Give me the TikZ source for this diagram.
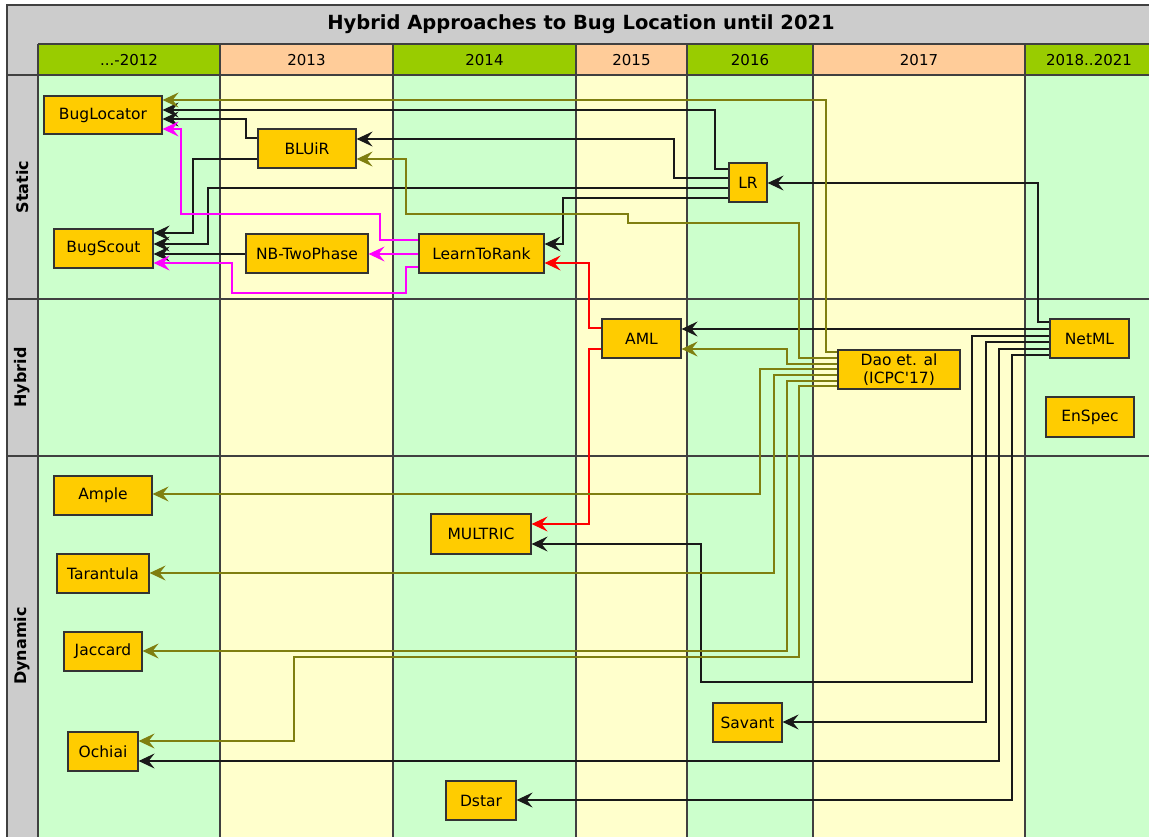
\documentclass[tikz,border=0pt]{standalone}
\usepackage{fontspec}
\setmainfont{DejaVu Sans}
\usepackage{tikz}
\usetikzlibrary{arrows.meta, positioning}
\usepackage{xcolor}
\definecolor{hgreen}{HTML}{99CC00}
\definecolor{hpeach}{HTML}{FFCC99}
\definecolor{bgreen}{HTML}{CCFFCC}
\definecolor{byellow}{HTML}{FFFFCC}
\definecolor{boxfill}{HTML}{FFCC00}
\definecolor{hdrgray}{HTML}{CCCCCC}
\definecolor{olv}{HTML}{7F7F10}
\definecolor{mgt}{HTML}{FF00FF}
\definecolor{rdd}{HTML}{FF0000}

\begin{document}
\begin{tikzpicture}[x=1pt, y=-1pt,
    >={Stealth[length=16pt, width=15pt, inset=6pt]},
    grid/.style={draw=black!75, line width=1.3pt},
    box/.style={draw=black!80, fill=boxfill, line width=1.2pt, inner sep=0pt,
                font=\fontsize{15.5}{18}\selectfont, align=center},
    yr/.style={font=\fontsize{15}{18}\selectfont},
    rowlbl/.style={rotate=90, font=\fontsize{16}{19}\selectfont\bfseries},
    ttl/.style={font=\fontsize{19.5}{23}\selectfont\bfseries},
    blk/.style={->, draw=black!90, line width=1.2pt},
    olvl/.style={->, draw=olv, line width=1.2pt},
    mag/.style={->, draw=mgt, line width=1.2pt},
    rd/.style={->, draw=rdd, line width=1.2pt}]
   \useasboundingbox (0,0) rectangle (1149,836);
   \clip (0,0) rectangle (1149,836);

   % 标题栏和左侧栏
   \fill[hdrgray] (7,5) rectangle (1160,850);
   \node[ttl] (title) at (581,24.5) {Hybrid Approaches to Bug Location until 2021};

   % 年份列
   \foreach \xa/\xb/\hc/\bc/\yr in {38/220/hgreen/bgreen/{...-2012},
       220/393/hpeach/byellow/{2013}, 393/576/hgreen/bgreen/{2014},
       576/687/hpeach/byellow/{2015}, 687/813/hgreen/bgreen/{2016},
       813/1025/hpeach/byellow/{2017}, 1025/1153/hgreen/bgreen/{2018..2021}} {
     \fill[\hc] (\xa,44) rectangle (\xb,75);
     \fill[\bc] (\xa,75) rectangle (\xb,850);
     \node[yr] (h\xa) at ({(\xa+\xb)/2},60) {\yr};
   }

   % 网格线
   \draw[grid] (7,850) -- (7,5) -- (1160,5);
   \draw[grid] (38,44) -- (1160,44);
   \foreach \y in {75,299,456}
     \draw[grid] (7,\y) -- (1160,\y);
   \foreach \x in {38,220,393,576,687,813,1025}
     \draw[grid] (\x,44) -- (\x,850);

   % 行标签
   \node[rowlbl] (rstatic) at (22.5,187) {Static};
   \node[rowlbl] (rhybrid) at (22.5,377.5) {Hybrid};
   \node[rowlbl] (rdynamic) at (22.5,646) {Dynamic};

   % Static
   \node[box, minimum width=118pt, minimum height=38pt] (bugloc) at (103,115) {BugLocator};
   \node[box, minimum width=98pt, minimum height=39pt] (bluir) at (307,148.5) {BLUiR};
   \node[box, minimum width=38pt, minimum height=39pt] (lr) at (748,182.5) {LR};
   \node[box, minimum width=99pt, minimum height=39pt] (bugscout) at (103.5,248.5) {BugScout};
   \node[box, minimum width=122pt, minimum height=39pt] (nb) at (307,253.5) {NB-TwoPhase};
   \node[box, minimum width=125pt, minimum height=39pt] (ltr) at (481.5,253.5) {LearnToRank};

   % Hybrid
   \node[box, minimum width=79pt, minimum height=39pt] (aml) at (641.5,338.5) {AML};
   \node[box, minimum width=79pt, minimum height=39pt] (netml) at (1089.5,338.5) {NetML};
   \node[box, minimum width=122pt, minimum height=39pt] (dao) at (899,369.5) {Dao et. al\\(ICPC\textquotesingle17)};
   \node[box, minimum width=88pt, minimum height=40pt] (enspec) at (1090,417) {EnSpec};

   % Dynamic
   \node[box, minimum width=98pt, minimum height=39pt] (ample) at (103,495.5) {Ample};
   \node[box, minimum width=100pt, minimum height=40pt] (multric) at (481,534) {MULTRIC};
   \node[box, minimum width=92pt, minimum height=39pt] (tarantula) at (103,573.5) {Tarantula};
   \node[box, minimum width=78pt, minimum height=39pt] (jaccard) at (103,651.5) {Jaccard};
   \node[box, minimum width=69pt, minimum height=39pt] (savant) at (747.5,722.5) {Savant};
   \node[box, minimum width=70pt, minimum height=39pt] (ochiai) at (103,751.5) {Ochiai};
   \node[box, minimum width=70pt, minimum height=39pt] (dstar) at (481,800.5) {Dstar};

   % LR 的引用
   \draw[blk] (lr.west |- 0,169) -| (715,110) -- (bugloc.east |- 0,110);
   \draw[blk] (lr.west |- 0,178) -| (674,139) -- (bluir.east |- 0,139);
   \draw[blk] (lr.west |- 0,188) -| (208,244) -- (bugscout.east |- 0,244);
   \draw[blk] (lr.west |- 0,198) -| (563,244) -- (ltr.east |- 0,244);

   % BLUiR, NB-TwoPhase
   \draw[blk] (bluir.west |- 0,138) -| (246,119) -- (bugloc.east |- 0,119);
   \draw[blk] (bluir.west |- 0,159) -| (193,233) -- (bugscout.east |- 0,233);
   \draw[blk] (nb.west |- 0,254) -- (bugscout.east |- 0,254);

   % LearnToRank
   \draw[mag] (ltr.west |- 0,240) -| (380,214) -| (181,129) -- (bugloc.east |- 0,129);
   \draw[mag] (ltr.west |- 0,254) -- (nb.east |- 0,254);
   \draw[mag] (ltr.west |- 0,267) -| (406,293) -| (232,263) -- (bugscout.east |- 0,263);

   % AML
   \draw[rd] (aml.west |- 0,328) -| (589,263) -- (ltr.east |- 0,263);
   \draw[rd] (aml.west |- 0,349) -| (589,524) -- (multric.east |- 0,524);

   % NetML
   \draw[blk] (netml.west |- 0,322) -| (1038,183) -- (lr.east |- 0,183);
   \draw[blk] (netml.west |- 0,329) -- (aml.east |- 0,329);
   \draw[blk] (netml.west |- 0,336) -| (972,682) -| (701,544) -- (multric.east |- 0,544);
   \draw[blk] (netml.west |- 0,342) -| (986,722) -- (savant.east |- 0,722);
   \draw[blk] (netml.west |- 0,349) -| (999,761) -- (ochiai.east |- 0,761);
   \draw[blk] (netml.west |- 0,355) -| (1012,800) -- (dstar.east |- 0,800);

   % Dao et. al
   \draw[olvl] (dao.west |- 0,352) -| (826,100) -- (bugloc.east |- 0,100);
   \draw[olvl] (dao.west |- 0,358) -| (799,223) -| (628,214) -| (406,159) -- (bluir.east |- 0,159);
   \draw[olvl] (dao.west |- 0,364) -| (787,349) -- (aml.east |- 0,349);
   \draw[olvl] (dao.west |- 0,369) -| (760,494) -- (ample.east |- 0,494);
   \draw[olvl] (dao.west |- 0,375) -| (774,573) -- (tarantula.east |- 0,573);
   \draw[olvl] (dao.west |- 0,381) -| (787,651) -- (jaccard.east |- 0,651);
   \draw[olvl] (dao.west |- 0,386) -| (799,657) -| (294,741) -- (ochiai.east |- 0,741);
\end{tikzpicture}
\end{document}
